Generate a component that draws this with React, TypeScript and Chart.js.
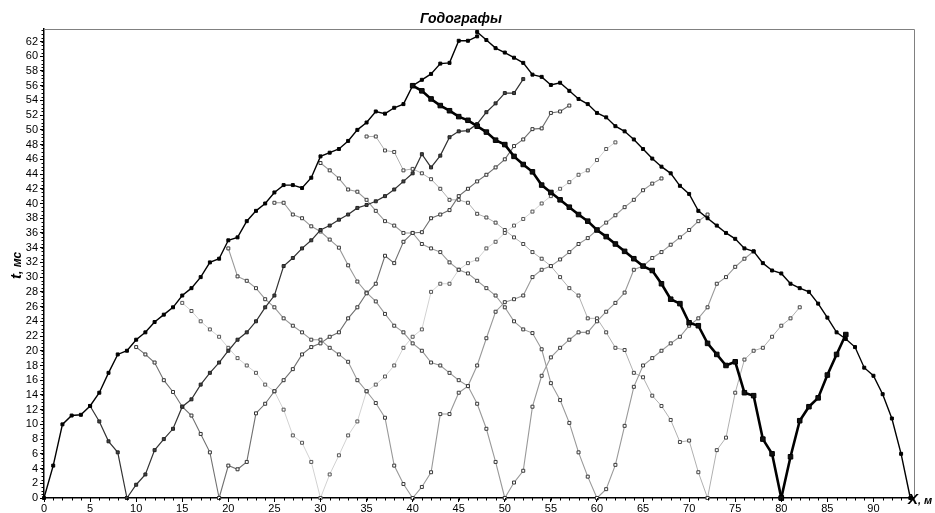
import React, { useEffect, useRef } from "react";
import { Chart, registerables } from "chart.js";

Chart.register(...registerables);

// ---------- data ----------
const X_POSITIONS = [
  0, 1, 2, 3, 4, 5, 6, 7, 8, 9, 10, 11, 12, 13, 14, 15, 16, 17, 18, 19, 20,
  21, 22, 23, 24, 25, 26, 27, 28, 29, 30, 31, 32, 33, 34, 35, 36, 37, 38, 39,
  40, 41, 42, 43, 44, 45, 46, 47, 48, 49, 50, 51, 52, 53, 54, 55, 56, 57, 58,
  59, 60, 61, 62, 63, 64, 65, 66, 67, 68, 69, 70, 71, 72, 73, 74, 75, 76, 77,
  78, 79, 80, 81, 82, 83, 84, 85, 86, 87, 88, 89, 90, 91, 92, 93, 94,
];
const X_TICKS = [0, 5, 10, 15, 20, 25, 30, 35, 40, 45, 50, 55, 60, 65, 70, 75, 80, 85, 90];
const Y_TICKS = [
  0, 2, 4, 6, 8, 10, 12, 14, 16, 18, 20, 22, 24, 26, 28, 30, 32, 34, 36, 38,
  40, 42, 44, 46, 48, 50, 52, 54, 56, 58, 60, 62,
];
const TITLE = "Годографы";
const X_TITLE_MAIN = "X";
const X_TITLE_UNIT = ", м";
const Y_TITLE_MAIN = "t";
const Y_TITLE_UNIT = ", мс";

// travel times (ms); each series begins at X_POSITIONS[start]
const src0Right = [0, 4.4, 10, 11.2, 11.3, 12.5, 14.3, 17, 19.5, 20, 21.5, 22.5, 23.9, 24.9, 25.9, 27.5, 28.5, 30, 32, 32.5, 35, 35.4, 37.6, 39, 40, 41.5, 42.5, 42.5, 42.1, 43.5, 46.4, 46.9, 47.4, 48.5, 50, 51, 52.5, 52.2, 53, 53.5, 56, 56.8, 57.6, 59, 59.1, 62.1, 62.1, 62.7];
const src94Left = [63.3, 62.2, 61.1, 60.5, 59.8, 59.1, 57.5, 57.2, 56.1, 56.4, 55.3, 54.2, 53.5, 52.3, 51.7, 50.5, 49.8, 48.7, 47.4, 46.1, 45, 44.1, 42.4, 41.3, 39, 38, 37, 36, 35.2, 33.9, 33.5, 31.9, 30.9, 30.5, 29.1, 28.5, 28, 26.4, 24.5, 22.5, 21.6, 20.5, 17.7, 16.6, 14.1, 10.8, 6, 0];
const src80Left = [56, 55.3, 54.2, 53.3, 52.6, 51.8, 51.3, 50.5, 49.7, 48.6, 48, 46.4, 45.3, 44.3, 42.5, 41.5, 40.5, 39.5, 38.5, 37.6, 36.4, 35.5, 34.5, 33.5, 32.5, 31.5, 30.9, 29.1, 27, 26.4, 23.8, 23.4, 21, 19.5, 18, 18.5, 14.3, 13.9, 8, 6, 0];
const src80Right = [0, 5.6, 10.5, 12.4, 13.6, 16.7, 19.5, 22.2];
const src9Left = [12.5, 10.4, 7.7, 6.2, 0];
const src9Right = [0, 1.8, 3.2, 6.5, 8, 9.4, 12.4, 13.4, 15.4, 17, 18.4, 20, 21.5, 22.5, 24, 25.9, 27.5, 31.5, 32.6, 33.9, 35, 36.4, 37, 37.8, 38.5, 39.4, 39.8, 40.3, 41, 41.9, 43, 44.1, 46.7, 44.9, 46.5, 49, 49.8, 49.9, 50.8, 52.4, 53.6, 55, 55, 56.9];
const src19Left = [20.5, 19.5, 18.4, 16, 14.4, 12.4, 11.2, 8.7, 6.2, 0];
const src19Right = [0, 4.4, 3.9, 4.9, 11.5, 12.8, 14.5, 16, 17.5, 19.5, 20.5, 21, 21.9, 22.5, 24.4, 25.9, 27.8, 29.1, 32.9, 31.9, 34.8, 36, 36.1, 38, 38.5, 39.1, 41, 42, 43, 43.9, 44.9, 46, 47.8, 48.7, 50.1, 50.2, 52.3, 52.5, 53.3];
const src30Left = [26.5, 25.4, 24, 22.9, 21.9, 20.4, 19, 18, 17, 15.4, 14.5, 12, 8.5, 7.5, 4.9, 0];
const src30Right = [0, 3.2, 5.8, 8.5, 10.4, 14.5, 15.4, 16.5, 18, 20.4, 21.9, 22.9, 28, 29.1, 29.1, 31, 31.9, 32.4, 33.9, 34.8, 36, 37, 37.9, 38.9, 40, 41, 42, 42.9, 43.9, 44.5, 45.9, 47.4, 48.3];
const src40Left = [33.9, 30.1, 29.5, 28.5, 27, 25.9, 24.4, 23.4, 22.5, 21.5, 21.5, 20.4, 19.5, 18.5, 16, 14.5, 12.9, 10.9, 4.4, 1.9, 0];
const src40Right = [0, 1.5, 3.5, 11.4, 11.4, 14.3, 15.2, 18, 21.7, 25.3, 26.6, 27, 27.5, 30, 31, 31.5, 32.4, 33.4, 34.5, 35.3, 36.4, 37.4, 38.4, 39.5, 40.5, 41.8, 42.7, 43.4];
const src50Left = [40.1, 40.1, 38.5, 38, 36.9, 36.2, 35.1, 34, 31.6, 29.4, 27.9, 26.7, 25, 23.4, 22.5, 21, 20, 18.4, 18, 17, 16, 15.2, 12.8, 9.4, 4.9, 0];
const src50Right = [0, 2.1, 3.7, 12.4, 16.6, 19.1, 20.4, 21.5, 22.5, 22.5, 24, 25.3, 26.5, 27.9, 31, 31.5, 32.6, 33.4, 34.4, 35.4, 36.4, 37.6, 38.5];
const src60Left = [45.5, 44.5, 43.4, 41.9, 41.6, 40.5, 39, 37.6, 37, 36, 36, 34.5, 33.9, 33.4, 32, 31, 30.5, 29.5, 28.5, 27.5, 25.9, 24, 22.9, 22.4, 20.2, 15.6, 13.3, 10.2, 6.2, 2.9, 0];
const src60Right = [0, 1.2, 4.5, 9.8, 15.1, 18, 19, 20, 21, 21.9, 23.4, 24.4, 25.9, 29.1, 30, 31.4, 32.5, 33.5];
const src72Left = [49.1, 49.1, 47.2, 47, 44.5, 44.7, 44.1, 43.3, 42, 40.5, 40.5, 40.1, 38.6, 38.1, 37.4, 36.4, 35.4, 34.5, 33.4, 32.5, 31.5, 30, 28.5, 27.5, 24.4, 24.4, 22.5, 20.4, 20.1, 17, 16.4, 13.9, 12.5, 10.6, 7.6, 7.8, 3.5, 0];
const src72Right = [0, 6.5, 8.2, 14.3, 18.8, 20, 20.4, 21.9, 23.4, 24.4, 25.9];

// ---------- styles ----------
type Style = { line: string; width: number; radius: number; fill: string; edge: string; order: number };
const black: Style = { line: "#000000", width: 1.4, radius: 2.1, fill: "#000000", edge: "#000000", order: 1 };
const thick: Style = { line: "#000000", width: 2.6, radius: 3.2, fill: "#111111", edge: "#000000", order: 0 };
const dark: Style = { line: "#333333", width: 1.2, radius: 2.1, fill: "#444444", edge: "#222222", order: 2 };
const mid: Style = { line: "#707070", width: 1.1, radius: 2.1, fill: "#ffffff", edge: "#333333", order: 3 };
const grey: Style = { line: "#999999", width: 1.1, radius: 2.1, fill: "#ffffff", edge: "#3a3a3a", order: 4 };
const light: Style = { line: "#b0b0b0", width: 1.0, radius: 2.1, fill: "#ffffff", edge: "#444444", order: 5 };
const pale: Style = { line: "#d2d2d2", width: 1.0, radius: 2.1, fill: "#ffffff", edge: "#555555", order: 6 };

const SERIES: { start: number; t: number[]; s: Style }[] = [
  { start: 0, t: src0Right, s: black },
  { start: 47, t: src94Left, s: black },
  { start: 40, t: src80Left, s: thick },
  { start: 80, t: src80Right, s: thick },
  { start: 5, t: src9Left, s: dark },
  { start: 9, t: src9Right, s: dark },
  { start: 10, t: src19Left, s: mid },
  { start: 19, t: src19Right, s: mid },
  { start: 15, t: src30Left, s: pale },
  { start: 30, t: src30Right, s: pale },
  { start: 20, t: src40Left, s: grey },
  { start: 40, t: src40Right, s: grey },
  { start: 25, t: src50Left, s: grey },
  { start: 50, t: src50Right, s: grey },
  { start: 30, t: src60Left, s: grey },
  { start: 60, t: src60Right, s: grey },
  { start: 35, t: src72Left, s: light },
  { start: 72, t: src72Right, s: light },
];

const FONT = "'Liberation Sans', Arial, sans-serif";

const decorPlugin = {
  id: "decor",
  afterDraw(chart: any) {
    const { ctx, chartArea } = chart;
    const { left, right, top, bottom } = chartArea;
    const xs = chart.scales.x;
    const ys = chart.scales.y;
    ctx.save();
    // frame top/right
    ctx.strokeStyle = "#808080";
    ctx.lineWidth = 1;
    ctx.beginPath();
    ctx.moveTo(left, top + 0.5);
    ctx.lineTo(right + 0.5, top + 0.5);
    ctx.lineTo(right + 0.5, bottom);
    ctx.stroke();
    // minor ticks
    ctx.strokeStyle = "#000";
    ctx.beginPath();
    for (let v = 0; v <= 94; v += 1) {
      const px = Math.round(xs.getPixelForValue(v)) + 0.5;
      ctx.moveTo(px, bottom);
      ctx.lineTo(px, bottom + 2.5);
    }
    for (let v = 0; v <= 63.5; v += 0.5) {
      const py = Math.round(ys.getPixelForValue(v)) + 0.5;
      ctx.moveTo(left, py);
      ctx.lineTo(left - 2.5, py);
    }
    ctx.stroke();
    // title
    ctx.fillStyle = "#000";
    ctx.font = `bold italic 14px ${FONT}`;
    ctx.textAlign = "center";
    ctx.textBaseline = "alphabetic";
    ctx.fillText(TITLE, 461, 23);
    // x title
    ctx.textAlign = "left";
    ctx.font = `bold italic 15px ${FONT}`;
    ctx.fillText(X_TITLE_MAIN, 908, 504);
    const w = ctx.measureText(X_TITLE_MAIN).width;
    ctx.font = `bold italic 11px ${FONT}`;
    ctx.fillText(X_TITLE_UNIT, 908 + w, 504);
    // y title (rotated)
    ctx.translate(21, 279);
    ctx.rotate(-Math.PI / 2);
    ctx.font = `bold italic 15px ${FONT}`;
    ctx.fillText(Y_TITLE_MAIN, 0, 0);
    const wy = ctx.measureText(Y_TITLE_MAIN).width;
    ctx.font = `bold italic 12px ${FONT}`;
    ctx.fillText(Y_TITLE_UNIT, wy, 0);
    ctx.restore();
  },
};

export default function App() {
  const ref = useRef<HTMLCanvasElement | null>(null);
  useEffect(() => {
    document.body.style.margin = "0";
    const canvas = ref.current;
    if (!canvas) return;
    const datasets = SERIES.map((se) => ({
      data: se.t.map((v, i) => ({ x: X_POSITIONS[se.start + i], y: v })),
      showLine: true,
      borderColor: se.s.line,
      borderWidth: se.s.width,
      pointStyle: "rect",
      pointRadius: se.s.radius,
      pointBackgroundColor: se.s.fill,
      pointBorderColor: se.s.edge,
      pointBorderWidth: 1,
      tension: 0,
      order: se.s.order,
      clip: false,
    }));
    const tickFont = { family: FONT, size: 11 };
    const chart = new Chart(canvas, {
      type: "scatter",
      data: { datasets } as any,
      plugins: [decorPlugin],
      options: {
        responsive: false,
        animation: false,
        devicePixelRatio: 1,
        layout: { padding: { top: 29, right: 21, left: 0, bottom: 0 } },
        plugins: { legend: { display: false }, tooltip: { enabled: false }, title: { display: false } },
        scales: {
          x: {
            type: "linear",
            min: 0,
            max: 94.4,
            afterBuildTicks: (s: any) => {
              s.ticks = X_TICKS.map((v) => ({ value: v }));
            },
            afterFit: (s: any) => {
              s.height = 15;
            },
            grid: { drawOnChartArea: false, drawTicks: true, tickLength: 4, color: "#000" },
            border: { color: "#000", width: 1.5 },
            ticks: { font: tickFont, color: "#000", padding: 0, maxRotation: 0, autoSkip: false },
          },
          y: {
            type: "linear",
            min: 0,
            max: 63.7,
            afterBuildTicks: (s: any) => {
              s.ticks = Y_TICKS.map((v) => ({ value: v }));
            },
            afterFit: (s: any) => {
              s.width = 44;
            },
            grid: { drawOnChartArea: false, drawTicks: true, tickLength: 4, color: "#000" },
            border: { color: "#000", width: 1.5 },
            ticks: { font: tickFont, color: "#000", padding: 2, autoSkip: false },
          },
        },
      } as any,
    });
    return () => chart.destroy();
  }, []);
  return (
    <div style={{ width: 935, height: 513, background: "#fff" }}>
      <canvas ref={ref} width={935} height={513} />
    </div>
  );
}
